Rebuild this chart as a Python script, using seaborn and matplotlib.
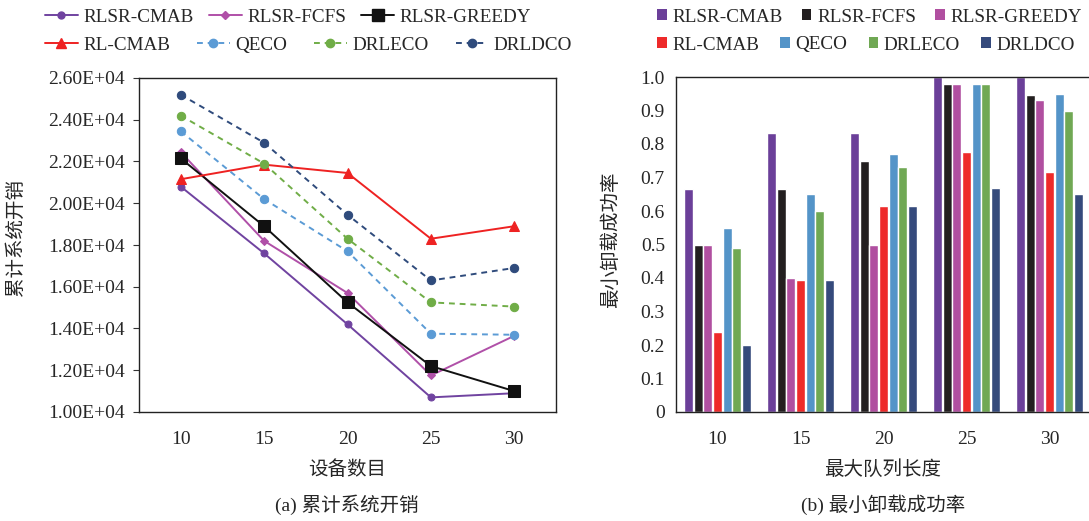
import matplotlib
matplotlib.use("Agg")
import matplotlib.pyplot as plt
from matplotlib.lines import Line2D
from matplotlib.patches import Patch
from matplotlib.ticker import FuncFormatter
import seaborn as sns
import pandas as pd

# ---------------- data ----------------
devices = ["10", "15", "20", "25", "30"]
cost_rlsr_cmab = [20800, 17600, 14200, 10700, 10900]
cost_rlsr_fcfs = [22450, 18200, 15700, 11750, 13650]
cost_rlsr_greedy = [22150, 18900, 15250, 12200, 11000]
cost_rl_cmab = [21150, 21850, 21450, 18300, 18900]
cost_qeco = [23450, 20200, 17700, 13750, 13700]
cost_drleco = [24200, 21900, 18300, 15250, 15050]
cost_drldco = [25200, 22900, 19450, 16300, 16900]

queue_len = ["10", "15", "20", "25", "30"]
rate_rlsr_cmab = [0.667, 0.833, 0.833, 1.0, 1.0]
rate_rlsr_fcfs = [0.5, 0.667, 0.75, 0.978, 0.945]
rate_rlsr_greedy = [0.5, 0.4, 0.5, 0.98, 0.93]
rate_rl_cmab = [0.24, 0.393, 0.615, 0.775, 0.715]
rate_qeco = [0.55, 0.65, 0.77, 0.978, 0.95]
rate_drleco = [0.49, 0.6, 0.73, 0.98, 0.9]
rate_drldco = [0.2, 0.393, 0.615, 0.67, 0.65]

methods = ["RLSR-CMAB", "RLSR-FCFS", "RLSR-GREEDY", "RL-CMAB", "QECO", "DRLECO", "DRLDCO"]

# ---------------- style ----------------
sns.set_style("white")
plt.rcParams["font.family"] = ["Liberation Serif", "Noto Sans CJK SC"]
plt.rcParams["axes.unicode_minus"] = False
FS = 14

line_colors = ["#7043a0", "#b050a8", "#111111", "#ee2222", "#5b9bd5", "#70ad47", "#2f4b7c"]
line_markers = ["o", "D", "s", "^", "o", "o", "o"]
marker_sizes = [5, 4.5, 8, 7, 6, 6, 6]
line_styles = ["-", "-", "-", "-", (0, (3, 2.5)), (0, (3, 2.5)), (0, (3, 2.5))]
bar_colors = ["#6b3f99", "#231f20", "#b04fa0", "#ee2a2a", "#5494c8", "#70a854", "#354a7c"]

fig = plt.figure(figsize=(10.89, 5.21), dpi=100)
W, H = 1089, 521
ax1 = fig.add_axes([139 / W, (H - 412) / H, (556 - 139) / W, (412 - 78) / H])
ax2 = fig.add_axes([676 / W, (H - 412) / H, (1091 - 676) / W, (412 - 77) / H])

# ---------------- left: line chart ----------------
cost_series = [cost_rlsr_cmab, cost_rlsr_fcfs, cost_rlsr_greedy, cost_rl_cmab,
               cost_qeco, cost_drleco, cost_drldco]
handles1 = []
for name, vals, c, m, ms, ls in zip(methods, cost_series, line_colors, line_markers,
                                     marker_sizes, line_styles):
    df = pd.DataFrame({"x": devices, "y": vals})
    sns.lineplot(data=df, x="x", y="y", ax=ax1, color=c, marker=m, markersize=ms,
                 markeredgecolor=c, linestyle=ls, linewidth=1.4, sort=False, legend=False)
    handles1.append(Line2D([], [], color=c, marker=m, markersize=ms, markeredgecolor=c,
                           linestyle=ls, linewidth=1.4, label=name))

ax1.set_xlim(-0.5, 4.5)
ax1.set_ylim(10000, 26000)
ax1.set_yticks(range(10000, 26001, 2000))
ax1.yaxis.set_major_formatter(FuncFormatter(lambda v, p: f"{v:.2E}"))
ax1.set_xticks([0.5, 1.5, 2.5, 3.5], labels=[])
ax1.set_xticks(range(5), labels=devices, minor=True)
ax1.tick_params(axis="x", which="major", direction="in", length=4, width=0.8, color="#333333")
ax1.tick_params(axis="x", which="minor", length=0, labelsize=FS, pad=14)
ax1.tick_params(axis="y", direction="out", length=4, width=0.8, labelsize=FS, pad=6,
                left=True, color="#333333")
ax1.set_xlabel("")
ax1.set_ylabel("")
for s in ax1.spines.values():
    s.set_color("#222222")
    s.set_linewidth(1.0)
    s.set_visible(True)

# ---------------- right: bar chart ----------------
rate_series = [rate_rlsr_cmab, rate_rlsr_fcfs, rate_rlsr_greedy, rate_rl_cmab,
               rate_qeco, rate_drleco, rate_drldco]
rows = []
for name, vals in zip(methods, rate_series):
    for q, v in zip(queue_len, vals):
        rows.append({"queue": q, "rate": v, "method": name})
bar_df = pd.DataFrame(rows)
sns.barplot(data=bar_df, x="queue", y="rate", hue="method", hue_order=methods,
            order=queue_len, palette=bar_colors, saturation=1, width=0.81, gap=0.08,
            ax=ax2, legend=False, errorbar=None)
ax2.set_xlim(-0.5, 4.5)
ax2.set_ylim(0, 1.0)
ax2.set_yticks([i / 10 for i in range(11)])
ax2.yaxis.set_major_formatter(FuncFormatter(lambda v, p: "0" if abs(v) < 1e-9 else f"{v:.1f}"))
ax2.tick_params(axis="both", length=0, labelsize=FS)
ax2.tick_params(axis="x", pad=14)
ax2.tick_params(axis="y", pad=8)
ax2.set_xlabel("")
ax2.set_ylabel("")
for s in ax2.spines.values():
    s.set_color("#222222")
    s.set_linewidth(1.0)
    s.set_visible(True)

# ---------------- texts ----------------
fig.text(347 / W, 1 - 470 / H, "设备数目", ha="center", va="center", fontsize=FS)
fig.text(347 / W, 1 - 505 / H, "(a) 累计系统开销", ha="center", va="center", fontsize=FS)
fig.text(16 / W, 1 - 238 / H, "累计系统开销", ha="center", va="center", rotation=90, fontsize=FS)
fig.text(883 / W, 1 - 470 / H, "最大队列长度", ha="center", va="center", fontsize=FS)
fig.text(883 / W, 1 - 505 / H, "(b) 最小卸载成功率", ha="center", va="center", fontsize=FS)
fig.text(611 / W, 1 - 240 / H, "最小卸载成功率", ha="center", va="center", rotation=90, fontsize=FS)

# ---------------- legends ----------------
common = dict(frameon=False, fontsize=13.8, borderpad=0, borderaxespad=0,
              handletextpad=0.3, loc="center left")
leg_a1 = fig.legend(handles=handles1[:3], ncol=3, bbox_to_anchor=(45 / W, 1 - 17 / H),
                    handlelength=1.7, columnspacing=0.8, **common)
leg_a2 = fig.legend(handles=handles1[3:], ncol=4, bbox_to_anchor=(45 / W, 1 - 45 / H),
                    handlelength=1.7, columnspacing=1.4, **common)

patches = [Patch(facecolor=c, edgecolor="none", label=n) for n, c in zip(methods, bar_colors)]
leg_b1 = fig.legend(handles=patches[:3], ncol=3, bbox_to_anchor=(657 / W, 1 - 17 / H),
                    handlelength=0.5, handleheight=0.5, columnspacing=1.0, **common)
leg_b2 = fig.legend(handles=patches[3:], ncol=4, bbox_to_anchor=(657 / W, 1 - 45 / H),
                    handlelength=0.5, handleheight=0.5, columnspacing=1.1, **common)

fig.savefig("out.png", dpi=100)
